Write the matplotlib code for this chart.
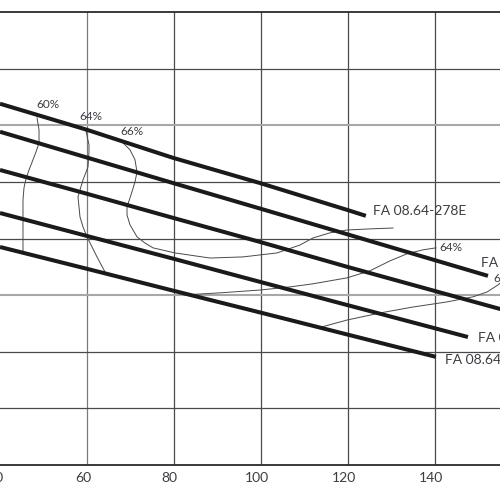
import matplotlib
matplotlib.use("Agg")
import matplotlib.pyplot as plt
import matplotlib.transforms as mtransforms

plt.rcParams['font.family'] = ['Lato', 'DejaVu Sans']

# pump curves (flow vs head)
q_278 = [40, 60, 79.8, 99.8, 119.9, 124.2]
h_278 = [12.76, 11.84, 10.85, 9.96, 9.01, 8.80]
q_2 = [40, 60, 79.8, 99.8, 119.9, 152.3]
h_2 = [11.77, 10.86, 9.96, 9.06, 8.15, 6.68]
q_3 = [40, 60, 79.8, 99.8, 119.9, 157]
h_3 = [10.42, 9.58, 8.73, 7.88, 7.00, 5.43]
q_4 = [40, 60, 79.8, 99.8, 119.9, 147.7]
h_4 = [8.90, 8.09, 7.29, 6.47, 5.65, 4.52]
q_5 = [40, 60, 79.8, 99.8, 119.9, 140.3]
h_5 = [7.70, 6.93, 6.16, 5.39, 4.61, 3.82]

curve_labels = ["FA 08.64-278E", "FA 08.64-262E", None, "FA 08.64-250E", "FA 08.64-240E"]

# iso-efficiency curves
eff60_q = [48.52, 48.98, 48.98, 48.29, 47.59, 46.67, 45.98, 45.52, 45.29, 45.29]
eff60_h = [12.26, 11.84, 11.38, 11.06, 10.78, 10.42, 10.11, 9.79, 9.36, 7.53]
eff64_q = [59.79, 60.48, 60.48, 60.25, 59.56, 59.10, 57.95, 58.18, 58.41, 59.10, 60.02, 62.32, 64.40]
eff64_h = [11.80, 11.31, 11.06, 10.53, 10.25, 10.07, 9.47, 9.12, 8.76, 8.41, 8.06, 7.35, 6.75]
eff66_q = [68.31, 69.92, 71.07, 71.53, 71.07, 70.15, 69.23, 69.23, 69.92, 71.53, 73.37, 75.21,
           80.28, 88.33, 95.93, 103.75, 109.05, 112.04, 115.95, 119.86, 125.16, 130.45]
eff66_h = [11.38, 11.13, 10.78, 10.35, 10.00, 9.54, 9.12, 8.83, 8.48, 8.06, 7.84, 7.67,
           7.49, 7.31, 7.35, 7.49, 7.77, 8.02, 8.20, 8.30, 8.34, 8.37]
eff64r_q = [82.58, 90.63, 99.84, 106.74, 112.04, 119.86, 125.16, 129.76, 133.67, 137.35, 140.35]
eff64r_h = [6.01, 6.08, 6.18, 6.29, 6.40, 6.61, 6.86, 7.21, 7.46, 7.60, 7.67]
eff60r_q = [113.19, 119.86, 127.46, 135.05, 142.88, 148.86, 152.08, 154.61, 156.23]
eff60r_h = [4.84, 5.12, 5.37, 5.58, 5.76, 5.94, 6.11, 6.36, 6.57]

x_ticks = [40, 60, 80, 100, 120, 140]
y_grid = [2, 4, 6, 8, 10, 12, 14]

dark = "#1a1a1a"
txt = "#3c3c44"

fig = plt.figure(figsize=(5, 5), dpi=100)
ax = fig.add_axes([0, 0.07, 1, 0.906])
ax.set_xlim(40, 155.07)
ax.set_ylim(0, 16)

# grid
for x in x_ticks[1:]:
    col = "#7a7a7a" if x == 60 else "#4a4a4a"
    ax.axvline(x, color=col, lw=0.9, zorder=1)
for y in y_grid:
    if y in (6, 12):
        ax.axhline(y, color="#a8a8a8", lw=1.5, zorder=1)
    else:
        ax.axhline(y, color="#4a4a4a", lw=0.9, zorder=1)

for s in ("left", "right"):
    ax.spines[s].set_visible(False)
for s in ("top", "bottom"):
    ax.spines[s].set_color("#2a2a2a")
    ax.spines[s].set_linewidth(1.3)

ax.set_xticks(x_ticks)
ax.set_xticklabels([str(x) for x in x_ticks])
ax.set_yticks([])
ax.tick_params(axis="x", length=0, pad=5, labelsize=10, labelcolor=txt)
shift = mtransforms.ScaledTranslation(-4 / 100, 0, fig.dpi_scale_trans)
for lab in ax.get_xticklabels():
    lab.set_transform(lab.get_transform() + shift)

# efficiency curves
eff = [(eff60_q, eff60_h), (eff64_q, eff64_h), (eff66_q, eff66_h),
       (eff64r_q, eff64r_h), (eff60r_q, eff60r_h)]
for q, h in eff:
    ax.plot(q, h, color="#4a4a4a", lw=0.7, zorder=2, clip_on=False)

small = dict(textcoords="offset pixels", fontsize=8.5, color=txt, va="center", ha="left")
ax.annotate("60%", (eff60_q[0], eff60_h[0]), xytext=(-1, 13), **small)
ax.annotate("64%", (eff64_q[0], eff64_h[0]), xytext=(-7, 14), **small)
ax.annotate("66%", (eff66_q[0], eff66_h[0]), xytext=(-3, 11), **small)
ax.annotate("64%", (eff64r_q[-1], eff64r_h[-1]), xytext=(3, 0), **small)
ax.annotate("60%", (eff60r_q[6], eff60r_h[6]), xytext=(6, 14), annotation_clip=False, **small)

# pump curves
curves = [(q_278, h_278), (q_2, h_2), (q_3, h_3), (q_4, h_4), (q_5, h_5)]
offsets = [(7, 5), (-7, 13), None, (10, -1), (9, -3)]
for (q, h), lab, off in zip(curves, curve_labels, offsets):
    ax.plot(q, h, color=dark, lw=2.9, solid_capstyle="butt", zorder=3, clip_on=False)
    if lab:
        ax.annotate(lab, (q[-1], h[-1]), xytext=off, textcoords="offset pixels",
                    fontsize=10, color=txt, va="center", ha="left", annotation_clip=False)

fig.savefig("out.png", dpi=100)
